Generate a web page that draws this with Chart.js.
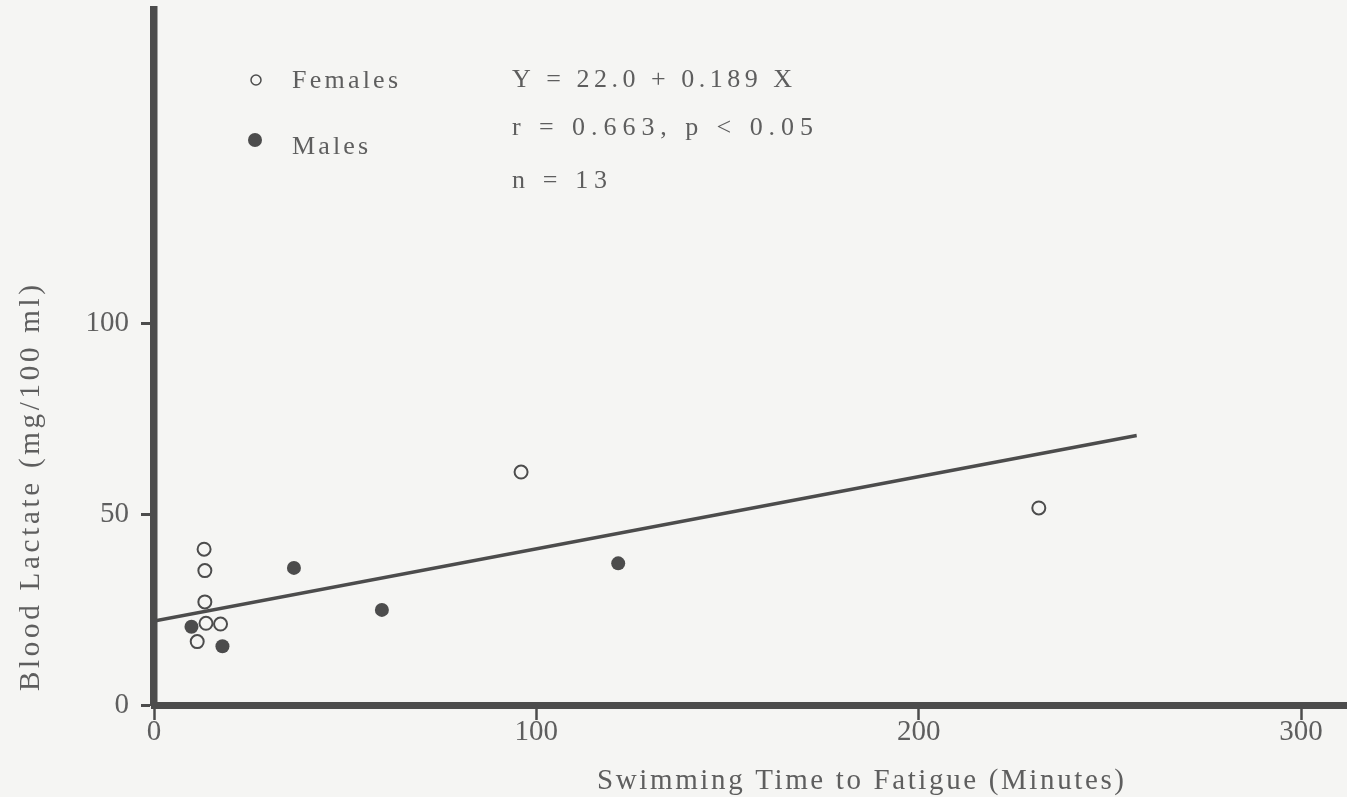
<!DOCTYPE html>
<html>
<head>
<meta charset="utf-8">
<script src="https://cdn.jsdelivr.net/npm/chart.js@4.4.1/dist/chart.umd.min.js"></script>
<style>
  html, body { margin: 0; padding: 0; background: #f5f5f3; }
  canvas { display: block; }
</style>
</head>
<body>
<canvas id="lactate" width="1347" height="797"></canvas>
<script>
// swimming time to fatigue (min) vs blood lactate (mg/100 ml)
const femaleTime    = [13.1, 13.3, 13.3, 13.6, 17.4, 11.3, 96.0, 231.4];
const femaleLactate = [40.8, 35.2, 27.0, 21.4, 21.2, 16.6, 61.0, 51.6];
const maleTime      = [9.8, 17.9, 36.6, 59.6, 121.4];
const maleLactate   = [20.5, 15.4, 35.9, 24.9, 37.1];

// fitted line Y = 22.0 + 0.189 X
const intercept = 22.0;
const slope = 0.189;
const fitRange = [0, 257];

const xTicks = [0, 100, 200, 300];
const yTicks = [0, 50, 100];

const statLines = ['Y = 22.0 + 0.189 X', 'r = 0.663, p < 0.05', 'n = 13'];

const ink = '#4c4c4c';
const textInk = '#5e5e5e';
const paper = '#f5f5f3';
const serif = '"Liberation Serif", "DejaVu Serif", serif';

const toPoints = (xs, ys) => xs.map((x, i) => ({ x, y: ys[i] }));
const fitPoints = fitRange.map(x => ({ x, y: intercept + slope * x }));

// typewriter-like text: spread the letters so the string spans a given width
function spacedText(ctx, text, left, y, width) {
    ctx.letterSpacing = '0px';
    const w0 = ctx.measureText(text).width;
    const gap = Math.max(0, (width - w0) / (text.length - 1));
    ctx.letterSpacing = gap + 'px';
    ctx.textAlign = 'left';
    ctx.fillText(text, left, y);
    ctx.letterSpacing = '0px';
}

// page background, axis titles, legend and regression text
const decor = {
    id: 'decor',
    beforeDraw(chart) {
        const ctx = chart.ctx;
        ctx.save();
        ctx.fillStyle = paper;
        ctx.fillRect(0, 0, chart.width, chart.height);
        ctx.restore();
    },
    afterDraw(chart) {
        const ctx = chart.ctx;
        ctx.save();
        ctx.textBaseline = 'middle';

        // legend marks
        ctx.beginPath();
        ctx.arc(256, 80, 5, 0, Math.PI * 2);
        ctx.strokeStyle = ink;
        ctx.lineWidth = 1.5;
        ctx.stroke();
        ctx.beginPath();
        ctx.arc(255, 140, 7, 0, Math.PI * 2);
        ctx.fillStyle = ink;
        ctx.fill();

        ctx.fillStyle = textInk;
        ctx.font = '26px ' + serif;
        spacedText(ctx, 'Females', 292, 81, 106);
        spacedText(ctx, 'Males', 292, 147, 76);

        // regression stats
        spacedText(ctx, statLines[0], 512, 80, 280);
        spacedText(ctx, statLines[1], 512, 128, 301);
        spacedText(ctx, statLines[2], 512, 181, 95);

        // axis titles
        ctx.font = '29px ' + serif;
        spacedText(ctx, 'Swimming Time to Fatigue (Minutes)', 597, 781, 527);

        ctx.translate(31, 691);
        ctx.rotate(-Math.PI / 2);
        spacedText(ctx, 'Blood Lactate (mg/100 ml)', 0, 0, 406);
        ctx.restore();
    }
};

new Chart(document.getElementById('lactate'), {
    type: 'scatter',
    data: {
        datasets: [
            {
                label: 'Females',
                data: toPoints(femaleTime, femaleLactate),
                pointRadius: 6.5,
                pointBorderWidth: 2,
                pointBorderColor: ink,
                pointBackgroundColor: paper
            },
            {
                label: 'Males',
                data: toPoints(maleTime, maleLactate),
                pointRadius: 7,
                pointBorderWidth: 0,
                pointBackgroundColor: ink
            },
            {
                label: 'Fit',
                data: fitPoints,
                showLine: true,
                borderColor: ink,
                borderWidth: 3.5,
                pointRadius: 0
            }
        ]
    },
    options: {
        responsive: false,
        animation: false,
        layout: { autoPadding: false, padding: { top: 10, right: 0, left: 0, bottom: 0 } },
        plugins: {
            legend: { display: false },
            tooltip: { enabled: false }
        },
        scales: {
            x: {
                type: 'linear',
                min: 0,
                max: 312,
                afterBuildTicks: s => { s.ticks = xTicks.map(v => ({ value: v })); },
                afterFit: s => {
                    s.height = 92;
                    s.paddingLeft = 0;
                    s.paddingRight = 0;
                },
                border: { display: true, color: ink, width: 7 },
                grid: { drawOnChartArea: false, tickLength: 15, tickWidth: 2.5, tickColor: ink },
                ticks: {
                    color: textInk,
                    padding: -5,
                    maxRotation: 0,
                    font: { family: serif, size: 29 }
                }
            },
            y: {
                type: 'linear',
                min: 0,
                max: 182,
                afterBuildTicks: s => { s.ticks = yTicks.map(v => ({ value: v })); },
                afterFit: s => {
                    s.width = 154;
                    s.paddingTop = 0;
                    s.paddingBottom = 0;
                },
                border: { display: true, color: ink, width: 7.5 },
                grid: { drawOnChartArea: false, tickLength: 13, tickWidth: 3, tickColor: ink },
                ticks: {
                    color: textInk,
                    padding: 12,
                    font: { family: serif, size: 29 }
                }
            }
        }
    },
    plugins: [decor]
});
</script>
</body>
</html>
